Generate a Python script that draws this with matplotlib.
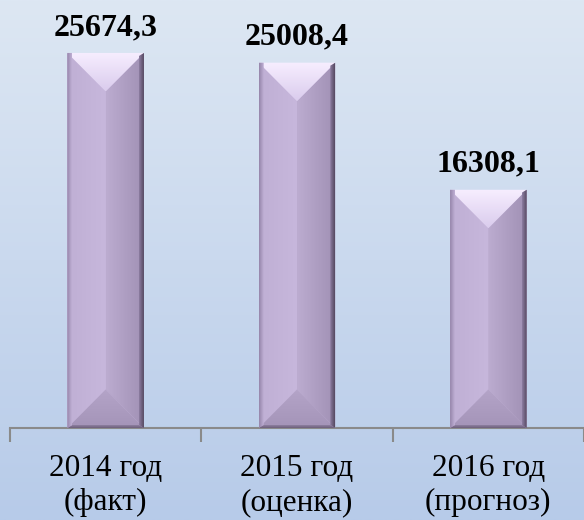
import numpy as np
import matplotlib.pyplot as plt
from matplotlib.patches import Polygon
from matplotlib.colors import LinearSegmentedColormap

# chart data
categories = ['2014 год\n(факт)', '2015 год\n(оценка)', '2016 год\n(прогноз)']
values = [25674.3, 25008.4, 16308.1]
value_labels = ['25674,3', '25008,4', '16308,1']

plt.rcParams['font.family'] = ['Liberation Serif', 'DejaVu Serif']

fig = plt.figure(figsize=(5.84, 5.2), dpi=100)

# gradient background over the whole figure
bg = fig.add_axes([0, 0, 1, 1], zorder=0)
bg_cmap = LinearSegmentedColormap.from_list('bg', ['#b7cbe9', '#dde7f3'])
bg.imshow(np.linspace(0, 1, 256).reshape(-1, 1), aspect='auto', cmap=bg_cmap,
          origin='lower', extent=[0, 1, 0, 1])
bg.axis('off')

ax = fig.add_axes([10 / 584, 92 / 520, 574 / 584, 428 / 520], zorder=1)
ax.patch.set_alpha(0)

x = np.arange(len(values))
bars = ax.bar(x, values, width=0.4, color='#c5b5da', zorder=2)
xlim = (-0.5, -0.5 + 574 / 192.5)
ylim = (0, 29300)
ax.set_xlim(*xlim)
ax.set_ylim(*ylim)

# pixels per data unit
p0, p1 = ax.transData.transform([(0, 0), (1, 1)])
sx, sy = p1 - p0


def grad_fill(poly_xy, c0, c1, horizontal, extent, z):
    poly = Polygon(poly_xy, closed=True, facecolor='none', edgecolor='none')
    ax.add_patch(poly)
    cm = LinearSegmentedColormap.from_list('g', [c0, c1])
    g = np.linspace(0, 1, 128)
    arr = g.reshape(1, -1) if horizontal else g.reshape(-1, 1)
    im = ax.imshow(arr, cmap=cm, aspect='auto', origin='lower',
                   extent=extent, zorder=z, interpolation='bilinear')
    im.set_clip_path(poly)


for b in bars:
    x0 = b.get_x()
    w = b.get_width()
    x1 = x0 + w
    xc = x0 + w / 2
    h = b.get_height()
    d = (w * sx / 2) / sy  # bevel depth equal to half width in pixels
    ex = 5 / sx  # thin edge strips
    ey = 3 / sy

    # left face, slight gradient
    grad_fill([(x0, 0), (xc, d), (xc, h - d), (x0, h)], '#bfafd4', '#c7b7dc',
              True, [x0, xc, 0, h], 3)
    # right face
    grad_fill([(xc, d), (x1, 0), (x1, h), (xc, h - d)], '#bcacd0', '#a090b4',
              True, [xc, x1, 0, h], 3)
    # top bevel
    grad_fill([(x0, h), (x1, h), (xc, h - d)], '#dacced', '#f7eeff',
              False, [x0, x1, h - d, h], 3)
    # bottom bevel
    grad_fill([(x0, 0), (x1, 0), (xc, d)], '#a494b8', '#b4a4c8',
              False, [x0, x1, 0, d], 3)
    # dark right edge
    grad_fill([(x1 - ex, ey), (x1, 0), (x1, h), (x1 - ex, h - ey)],
              '#8e7ea2', '#544860', True, [x1 - ex, x1, 0, h], 4)
    # dark bottom edge
    grad_fill([(x0, 0), (x1, 0), (x1 - ex, ey), (x0 + ex, ey)],
              '#6c5f7a', '#9a8aae', False, [x0, x1, 0, ey], 4)
    # soft left edge
    grad_fill([(x0, 0), (x0 + ex, ey), (x0 + ex, h), (x0, h)],
              '#9585aa', '#c0b0d5', True, [x0, x0 + ex, 0, h], 4)

ax.set_xlim(*xlim)
ax.set_ylim(*ylim)

# value labels
for b, lab in zip(bars, value_labels):
    ax.annotate(lab, (b.get_x() + b.get_width() / 2, b.get_height()),
                xytext=(0, 13), textcoords='offset points', ha='center',
                va='baseline', fontsize=23, fontweight='bold', color='black',
                annotation_clip=False)

# axis styling
for s in ['top', 'right', 'left']:
    ax.spines[s].set_visible(False)
ax.spines['bottom'].set_color('#8a8a8a')
ax.spines['bottom'].set_linewidth(1.5)
ax.set_yticks([])
ax.set_xticks(x)
ax.set_xticklabels(categories, fontsize=22.5, linespacing=1.2)
ax.tick_params(axis='x', which='major', length=0, pad=19)
ax.set_xticks(np.arange(-0.5, len(values), 1.0), minor=True)
ax.tick_params(axis='x', which='minor', length=10, width=1.5, color='#8a8a8a',
               direction='out')

fig.savefig('out.png', dpi=100)
